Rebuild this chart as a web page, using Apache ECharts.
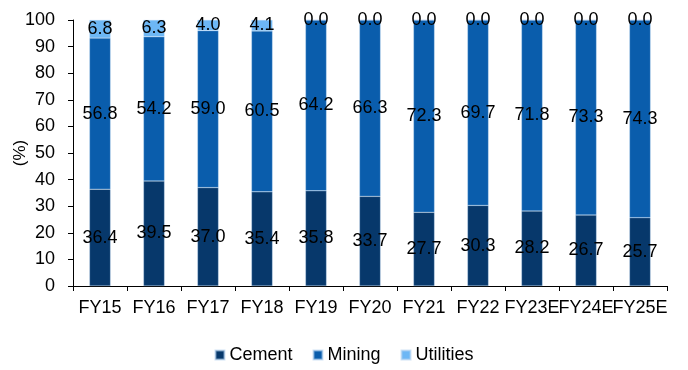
<!DOCTYPE html>
<html><head><meta charset="utf-8">
<script src="https://cdn.jsdelivr.net/npm/echarts@6/dist/echarts.min.js"></script>
<style>html,body{margin:0;padding:0;background:#fff}#c{width:688px;height:370px}</style>
</head><body><div id="c"></div>
<script>
const categories = ['FY15','FY16','FY17','FY18','FY19','FY20','FY21','FY22','FY23E','FY24E','FY25E'];
const cement = [36.4,39.5,37.0,35.4,35.8,33.7,27.7,30.3,28.2,26.7,25.7];
const mining = [56.8,54.2,59.0,60.5,64.2,66.3,72.3,69.7,71.8,73.3,74.3];
const utilities = [6.8,6.3,4.0,4.1,0.0,0.0,0.0,0.0,0.0,0.0,0.0];
const yTicks = [0,10,20,30,40,50,60,70,80,90,100];

const font = 'Liberation Sans, Arial, sans-serif';
const lbl = {show:true, position:'inside', color:'#000', fontFamily:font, fontSize:18, formatter:p=>p.value.toFixed(1)};
function s(name, data, color){
  return {name, type:'bar', stack:'a', data, barWidth:'39%',
    itemStyle:{color, borderColor:'rgba(180,210,240,0.6)', borderWidth:0.5},
    label:lbl, emphasis:{disabled:true}};
}
const chart = echarts.init(document.getElementById('c'));
chart.setOption({
  animation:false,
  grid:{left:73, right:21, top:20, bottom:84, containLabel:false, outerBoundsMode:'none'},
  legend:{bottom:1, left:'center', itemWidth:9, itemHeight:9, itemGap:20, icon:'rect',
    textStyle:{fontFamily:font, fontSize:18, color:'#000'},
    data:['Cement','Mining','Utilities']},
  xAxis:{type:'category', data:categories,
    axisLine:{lineStyle:{color:'#000', width:1}},
    axisTick:{show:true, length:5, lineStyle:{color:'#000'}},
    axisLabel:{color:'#000', fontFamily:font, fontSize:18, margin:13, interval:0, hideOverlap:false}},
  yAxis:{type:'value', min:0, max:100, interval:10,
    name:'(%)', nameLocation:'middle', nameGap:44, nameRotate:90, nameMoveOverlap:false,
    nameTextStyle:{color:'#000', fontFamily:font, fontSize:17},
    axisLine:{show:true, lineStyle:{color:'#000'}},
    axisTick:{show:true, length:5, lineStyle:{color:'#000'}},
    splitLine:{show:false},
    axisLabel:{color:'#000', fontFamily:font, fontSize:18, margin:18,
      formatter:v=>yTicks.includes(v)?String(v):''}},
  series:[s('Cement',cement,'#07386b'), s('Mining',mining,'#0a5dac'), s('Utilities',utilities,'#6db7f5')]
});
</script></body></html>
